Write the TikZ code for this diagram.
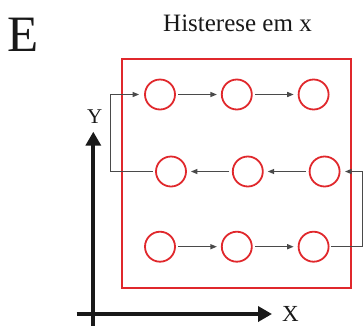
\documentclass[tikz,border=0pt]{standalone}
\usepackage{fontspec}
\setmainfont{Liberation Serif}
\usepackage{tikz}
\usetikzlibrary{arrows.meta,positioning}
\definecolor{histred}{HTML}{E0282C}
\definecolor{linkgray}{HTML}{4A4A4A}
\tikzset{
  hist/cell/.style={draw=histred, circle, line width=1.8pt, minimum size=30pt, inner sep=0pt},
  hist/frame/.style={draw=histred, line width=1.8pt},
  hist/link/.style={draw=linkgray, line width=1.3pt, -{Triangle[length=6.5pt,width=5pt]}, shorten <=2.5pt, shorten >=4pt},
  hist/axis/.style={draw=black!90, line width=3.8pt, -{Triangle[length=14pt,width=15pt]}},
  hist/label/.style={inner sep=0pt, text=black!90}
}

\begin{document}
\begin{tikzpicture}[x=1pt, y=-1pt, node distance=45pt]
  \useasboundingbox (0,0) rectangle (364,325);

  % Titles
  \node[hist/label, font=\fontsize{51}{51}\selectfont] (tag) at (23.3,35) {E};
  \node[hist/label, anchor=base, font=\fontsize{25}{25}\selectfont] (title) at (237.5,31.7) {Histerese em x};

  % Frame
  \draw[hist/frame] (121.7,59.3) rectangle (350.7,288);

  % Cells, row by row
  \node[hist/cell] (c11) at (160,94.5) {};
  \node[hist/cell, right=of c11] (c12) {};
  \node[hist/cell, right=of c12] (c13) {};

  \node[hist/cell] (c21) at (171,171.5) {};
  \node[hist/cell, right=of c21] (c22) {};
  \node[hist/cell, right=of c22] (c23) {};

  \node[hist/cell] (c31) at (160,246.7) {};
  \node[hist/cell, right=of c31] (c32) {};
  \node[hist/cell, right=of c32] (c33) {};

  % Path through the cells
  \draw[hist/link] (c11) -- (c12);
  \draw[hist/link] (c12) -- (c13);
  \draw[hist/link] (c23) -- (c22);
  \draw[hist/link] (c22) -- (c21);
  \draw[hist/link] (c31) -- (c32);
  \draw[hist/link] (c32) -- (c33);
  \draw[hist/link, shorten >=5pt] (c21.west) -- ++(-44.5,0) |- (c11.west);
  \draw[hist/link, shorten <=1.5pt, shorten >=4.5pt] (c33.east) -- (362.8,246.7) |- (c23.east);

  % Axes
  \coordinate (yfoot) at (93.3,326);
  \coordinate (xfoot) at (76.7,314);
  \coordinate (ytip) at (93.3,131.7);
  \coordinate (xtip) at (272,314);
  \draw[hist/axis] (yfoot) -- (ytip);
  \draw[hist/axis] (xfoot) -- (xtip);
  \node[hist/label, font=\fontsize{21}{21}\selectfont] (ylab) at (94.7,116.5) {Y};
  \node[hist/label, font=\fontsize{23}{23}\selectfont] (xlab) at (290.5,313.8) {X};
\end{tikzpicture}
\end{document}
